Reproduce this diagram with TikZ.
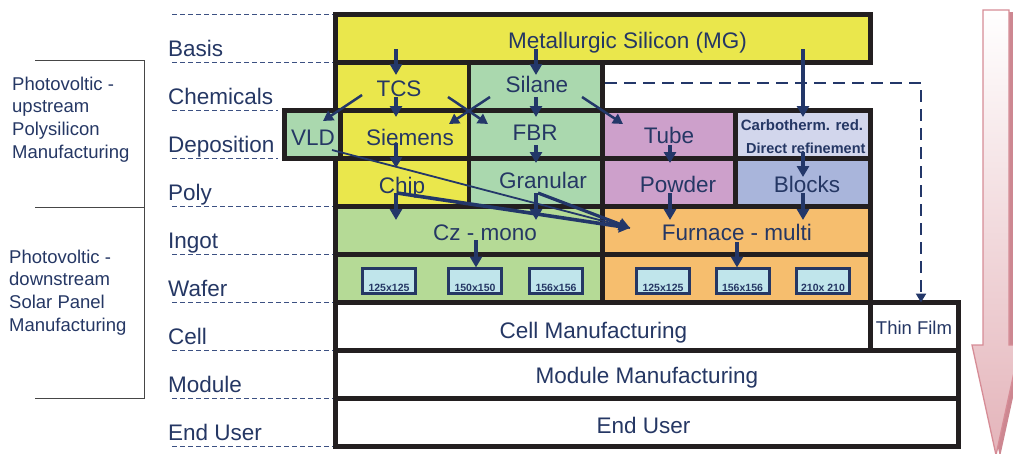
\documentclass[tikz,border=0pt]{standalone}
\usepackage{fontspec}
\setmainfont{Liberation Sans}
\usetikzlibrary{arrows.meta,calc}
\definecolor{bord}{RGB}{35,31,32}
\definecolor{navy}{RGB}{37,55,100}
\definecolor{arrc}{RGB}{35,55,105}
\definecolor{guidec}{RGB}{60,80,130}
\definecolor{ylw}{RGB}{234,231,76}
\definecolor{grn}{RGB}{170,216,174}
\definecolor{lgrn}{RGB}{181,218,150}
\definecolor{purp}{RGB}{205,160,203}
\definecolor{lav}{RGB}{210,214,236}
\definecolor{blu}{RGB}{169,181,219}
\definecolor{orng}{RGB}{246,190,110}
\definecolor{wcyan}{RGB}{192,229,235}
\definecolor{pinkfill}{RGB}{228,180,186}
\definecolor{pinkedge}{RGB}{214,140,150}
\definecolor{pinkshadow}{RGB}{205,135,145}
\definecolor{brkc}{RGB}{70,70,70}
\begin{document}
\begin{tikzpicture}[x=1pt,y=-1pt,
  cellbox/.style={draw=bord,line width=4.5pt,inner sep=0pt,outer sep=0pt,minimum height=48pt},
  lbl/.style={font=\fontsize{22.5}{27}\selectfont,text=navy,inner sep=0pt,anchor=base},
  rowlbl/.style={lbl,anchor=base west},
  sml/.style={font=\bfseries\fontsize{15}{18}\selectfont,text=navy,inner sep=0pt,anchor=base},
  wbox/.style={draw=navy,line width=3pt,fill=wcyan,inner sep=0pt,outer sep=0pt,minimum width=53pt,minimum height=25pt},
  wtxt/.style={font=\bfseries\fontsize{10.5}{12}\selectfont,text=navy,inner sep=0pt,anchor=base},
  arr/.style={draw=arrc,line width=3.2pt,-{Triangle[length=11pt,width=12pt]}},
  darr/.style={draw=arrc,line width=2.5pt,-{Triangle[length=10pt,width=11pt]}},
  dasharr/.style={draw=arrc,line width=2.5pt,dash pattern=on 12pt off 7pt,-{Triangle[length=9pt,width=10pt]}},
  guide/.style={draw=guidec,line width=1.3pt,dash pattern=on 5pt off 3pt},
  brk/.style={draw=brkc,line width=1pt},
  grp/.style={font=\fontsize{18.5}{22.7}\selectfont,text=navy,inner sep=0pt,align=left,anchor=north west}
]
\useasboundingbox (0,0) rectangle (1013,453);

% big pink arrow
\begin{scope}
\clip (0,0) rectangle (1013,453);
\fill[pinkshadow] (987,12) -- (1013,12) -- (1013,347) -- (1024,347) -- (1000,457) -- (976,347) -- (987,347) -- cycle;
\shade[top color=white,bottom color=pinkfill,draw=pinkedge,line width=1.3pt]
  (983,10) -- (1009,10) -- (1009,345) -- (1020,345) -- (996,455) -- (972,345) -- (983,345) -- cycle;
\end{scope}

% left guides
\foreach \yy/\xe in {14.5/335,62.5/335,110.5/278,158.5/278,206.5/335,254.5/335,302.5/335,350.5/335,398.5/335,446.5/335}
  \draw[guide] (172,\yy) -- (\xe,\yy);

% bracket
\draw[brk] (35,60) -- (144,60) -- (144,398) -- (35,398);
\draw[brk] (35,207) -- (144,207);

\node[grp] (gUp) at (12,76.5) {Photovoltic -\\upstream\\Polysilicon\\Manufacturing};
\node[grp] (gDown) at (9,249.5) {Photovoltic -\\downstream\\Solar Panel\\Manufacturing};

% row labels
\node[rowlbl] (lBasis) at (168,56) {Basis};
\node[rowlbl] (lChem) at (168,104) {Chemicals};
\node[rowlbl] (lDep) at (168,152) {Deposition};
\node[rowlbl] (lPoly) at (168,200) {Poly};
\node[rowlbl] (lIngot) at (168,248) {Ingot};
\node[rowlbl] (lWafer) at (168,296) {Wafer};
\node[rowlbl] (lCell) at (168,344) {Cell};
\node[rowlbl] (lModule) at (168,392) {Module};
\node[rowlbl] (lEnd) at (168,440) {End User};

% boxes
\node[cellbox,fill=ylw,minimum width=535pt] (bMG) at (603,38.5) {};
\node[cellbox,fill=ylw,minimum width=133.5pt] (bTCS) at (402.25,86.5) {};
\node[cellbox,fill=grn,minimum width=133.5pt] (bSil) at (535.75,86.5) {};
\node[cellbox,fill=grn,minimum width=56pt] (bVLD) at (312.5,134.5) {};
\node[cellbox,fill=ylw,minimum width=128.5pt] (bSie) at (404.75,134.5) {};
\node[cellbox,fill=grn,minimum width=133.5pt] (bFBR) at (535.75,134.5) {};
\node[cellbox,fill=purp,minimum width=133pt] (bTube) at (669,134.5) {};
\node[cellbox,fill=lav,minimum width=135pt] (bCarb) at (803,134.5) {};
\node[cellbox,fill=ylw,minimum width=133.5pt] (bChip) at (402.25,182.5) {};
\node[cellbox,fill=grn,minimum width=133.5pt] (bGran) at (535.75,182.5) {};
\node[cellbox,fill=purp,minimum width=133pt] (bPow) at (669,182.5) {};
\node[cellbox,fill=blu,minimum width=135pt] (bBlk) at (803,182.5) {};
\node[cellbox,fill=lgrn,minimum width=267pt] (bCz) at (469,230.5) {};
\node[cellbox,fill=orng,minimum width=268pt] (bFur) at (736.5,230.5) {};
\node[cellbox,fill=lgrn,minimum width=267pt] (bWL) at (469,278.5) {};
\node[cellbox,fill=orng,minimum width=268pt] (bWR) at (736.5,278.5) {};
\node[cellbox,fill=white,minimum width=535pt] (bCell) at (603,326.5) {};
\node[cellbox,fill=white,minimum width=88pt] (bThin) at (914.5,326.5) {};
\node[cellbox,fill=white,minimum width=623pt] (bMod) at (647,374.5) {};
\node[cellbox,fill=white,minimum width=623pt] (bEnd) at (647,422.5) {};

% wafer boxes
\node[wbox] (w1) at (389,281) {};
\node[wbox] (w2) at (475,281) {};
\node[wbox] (w3) at (556,281) {};
\node[wbox] (w4) at (663,281) {};
\node[wbox] (w5) at (742.5,281) {};
\node[wbox] (w6) at (823,281) {};
\node[wtxt] (tw1) at (389,291) {125x125};
\node[wtxt] (tw2) at (475,291) {150x150};
\node[wtxt] (tw3) at (556,291) {156x156};
\node[wtxt] (tw4) at (663,291) {125x125};
\node[wtxt] (tw5) at (742.5,291) {156x156};
\node[wtxt] (tw6) at (823,291) {210x 210};

% texts
\node[lbl] (tMG) at (627.5,48) {Metallurgic Silicon (MG)};
\node[lbl] (tTCS) at (399,96) {TCS};
\node[lbl] (tSil) at (537,92) {Silane};
\node[lbl] (tVLD) at (313,145) {VLD};
\node[lbl] (tSie) at (410,145) {Siemens};
\node[lbl] (tFBR) at (535,140) {FBR};
\node[lbl] (tTube) at (669,143) {Tube};
\node[sml] (tCarb1) at (802,130) {Carbotherm. red.};
\node[sml,font=\bfseries\fontsize{14.5}{18}\selectfont,anchor=base west] (tCarb2) at (746,153) {Direct refinement};
\node[lbl] (tChip) at (402,193) {Chip};
\node[lbl] (tGran) at (543,188) {Granular};
\node[lbl] (tPow) at (678,192) {Powder};
\node[lbl] (tBlk) at (807,192) {Blocks};
\node[lbl] (tCz) at (485,240) {Cz - mono};
\node[lbl] (tFur) at (737,240) {Furnace - multi};
\node[lbl] (tCell) at (593.5,338) {Cell Manufacturing};
\node[lbl,font=\fontsize{18.5}{22}\selectfont] (tThin) at (914,334) {Thin Film};
\node[lbl] (tMod) at (647,383) {Module Manufacturing};
\node[lbl] (tEnd) at (643.5,433) {End User};

% lanes
\coordinate (laneA) at (396,0);
\coordinate (laneB) at (536,0);
\coordinate (laneC) at (670,0);
\coordinate (laneD) at (803,0);
\coordinate (laneE) at (476,0);
\coordinate (laneF) at (737,0);
\coordinate (laneG) at (921,0);
\coordinate (furTip) at ($(bFur.west)+(27.5,-2.5)$);

% vertical arrows
\draw[arr] ($(laneA |- bMG.south)+(0,-13.5)$) -- ($(laneA |- bTCS.north)+(0,12.5)$);
\draw[arr] ($(laneB |- bMG.south)+(0,-13.5)$) -- ($(laneB |- bSil.north)+(0,12.5)$);
\draw[arr] ($(laneD |- bMG.south)+(0,-13.5)$) -- ($(laneD |- bCarb.north)+(0,6.5)$);
\draw[arr] ($(laneA |- bTCS.south)+(0,-13.5)$) -- ($(laneA |- bSie.north)+(0,6.5)$);
\draw[arr] ($(laneB |- bSil.south)+(0,-13.5)$) -- ($(laneB |- bFBR.north)+(0,6.5)$);
\draw[arr] ($(laneA |- bSie.south)+(0,-15.5)$) -- ($(laneA |- bChip.north)+(0,9.5)$);
\draw[arr] ($(laneB |- bFBR.south)+(0,-13.5)$) -- ($(laneB |- bGran.north)+(0,4.5)$);
\draw[arr] ($(laneC |- bTube.south)+(0,-13.5)$) -- ($(laneC |- bPow.north)+(0,4.5)$);
\draw[arr] ($(laneD |- bCarb.south)+(0,-6.5)$) -- ($(laneD |- bBlk.north)+(0,18.5)$);
\draw[arr] ($(laneA |- bChip.south)+(0,-13.5)$) -- ($(laneA |- bCz.north)+(0,13.5)$);
\draw[arr] ($(laneB |- bGran.south)+(0,-13.5)$) -- ($(laneB |- bCz.north)+(0,13.5)$);
\draw[arr] ($(laneC |- bPow.south)+(0,-13.5)$) -- ($(laneC |- bFur.north)+(0,13.5)$);
\draw[arr] ($(laneD |- bBlk.south)+(0,-13.5)$) -- ($(laneD |- bFur.north)+(0,13.5)$);
\draw[arr] ($(laneE |- bCz.south)+(0,-14.5)$) -- ($(laneE |- w2.north)+(0,-1)$);
\draw[arr] ($(laneF |- bFur.south)+(0,-12.5)$) -- ($(laneF |- w5.north)+(0,-1)$);

% diagonal arrows
\draw[darr] ($(bTCS.south west)+(26.5,-15.5)$) -- ($(bVLD.north east)+(-17.5,10.5)$);
\draw[darr] ($(bTCS.south east)+(-21,-13.5)$) -- ($(bFBR.north west)+(19,13.5)$);
\draw[darr] ($(bSil.south west)+(21,-13.5)$) -- ($(bSie.north east)+(-20,13.5)$);
\draw[darr] ($(bSil.south east)+(-20.5,-13.5)$) -- ($(bTube.north west)+(20.5,13.5)$);

% converging arrows to furnace
\draw[draw=arrc,line width=1.8pt] ($(bVLD.south east)+(-8.5,-8.5)$) -- (furTip);
\draw[arr,line width=3.6pt] ($(laneA |- bChip.south)+(1,-13.5)$) -- (furTip);
\draw[arr] ($(laneB |- bGran.south)+(2,-13.5)$) -- (furTip);

% dashed thin film path
\draw[dasharr] ($(bSil.east)+(2.5,-3.5)$) -| (laneG |- bThin.north);
\end{tikzpicture}
\end{document}
